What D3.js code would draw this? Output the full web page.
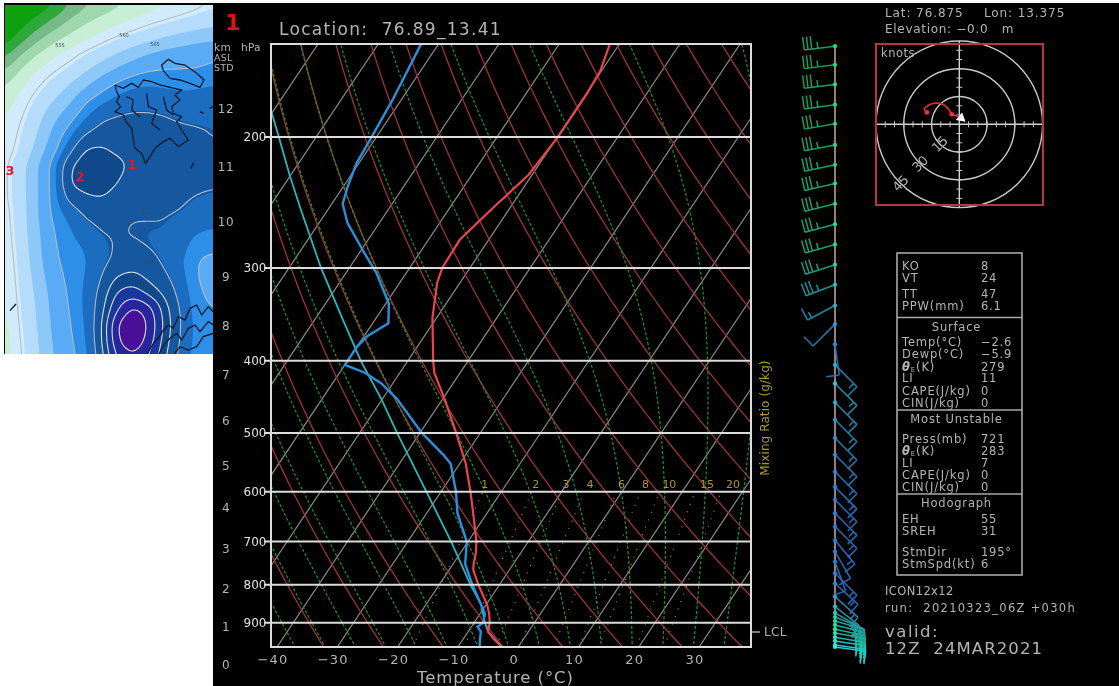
<!DOCTYPE html>
<html>
<head>
<meta charset="utf-8">
<script src="https://cdn.jsdelivr.net/npm/d3@7"></script>
<style>
  html, body { margin: 0; padding: 0; background: #fff; }
  svg { display: block; filter: blur(0.45px); }
  text { font-family: "DejaVu Sans", sans-serif; }
</style>
</head>
<body>
<svg id="chart" width="1119" height="686"></svg>
<script>
// sounding values (hPa, degC)
const tempLevels = [970, 950, 925, 900, 875, 850, 800, 764, 750, 726, 700, 650, 600, 550, 500, 450, 415, 400, 350, 314, 300, 275, 250, 225, 200, 175, 163, 150];
const tempValues = [-2.7, -4.6, -6.7, -7.4, -8.5, -9.9, -13.5, -16, -16.6, -17.4, -18.6, -21.7, -25.1, -29, -34, -39.7, -44.3, -45.8, -50.7, -53.8, -54.6, -54.8, -52.9, -50.6, -49.9, -49.9, -50.2, -51.6];

const dewLevels = [970, 950, 925, 911, 900, 875, 850, 800, 750, 700, 641, 600, 550, 535, 500, 450, 429, 415, 405, 383, 371, 356, 335, 305, 285, 261, 246, 233, 217, 200, 177, 150];
const dewValues = [-6.4, -7.1, -7.9, -9, -8.5, -9.2, -10.9, -14.5, -18, -20.2, -24.9, -27.5, -31.5, -33.7, -39.7, -47.6, -51.9, -55.8, -60, -60, -59.5, -57.4, -59.5, -64.9, -69.5, -75.3, -78.2, -79.3, -80.4, -80.8, -81.5, -82.9];

const parcelLevels = [970, 925, 900, 850, 800, 700, 600, 500, 450, 400, 350, 300, 250, 225, 200, 184];
const parcelValues = [-2.7, -6.7, -8.2, -10.9, -14.8, -22.8, -32.4, -43.8, -50.2, -57.8, -65.7, -74.7, -84.6, -90.2, -96.2, -100.5];

// wind column
const windLevels = [151, 160, 170, 181, 192, 205, 218, 231, 246, 262, 279, 297, 316, 337, 357, 380, 405, 429, 455, 480, 508, 535, 564, 591, 615, 641, 668, 697, 722, 745, 772, 797, 830, 856, 873, 884, 895, 906, 918, 929, 941, 952, 964, 970];
const windDirs = [263, 263, 263, 262, 260, 259, 258, 257, 256, 255, 254, 252, 249, 242, 225, 172, 135, 135, 135, 135, 135, 135, 135, 135, 135, 135, 135, 140, 150, 160, 135, 132, 132, 128, 120, 112, 106, 104, 102, 100, 100, 99, 98, 98];
const windSpeeds = [35, 35, 35, 35, 35, 35, 35, 35, 35, 35, 35, 35, 35, 15, 10, 10, 15, 15, 15, 15, 15, 15, 15, 15, 15, 15, 15, 15, 10, 10, 15, 15, 15, 15, 25, 25, 25, 25, 25, 25, 25, 25, 25, 25];

// hodograph, knots
const hodoU = [-17.5, -18.9, -16.6, -13, -8.6, -5.4, -4.1, -1.4, 1.3];
const hodoV = [6.4, 8.2, 10.3, 11.4, 10.7, 7.7, 5.4, 4.6, 3.9];
const hodoRings = [15, 30, 45];

// axes and background families
const pressureTicks = [200, 300, 400, 500, 600, 700, 800, 900];
const tempTicks = [-40, -30, -20, -10, 0, 10, 20, 30];
const kmLabels = [12, 11, 10, 9, 8, 7, 6, 5, 4, 3, 2, 1, 0];
const kmPressures = [183, 219, 260, 308, 359, 417, 482, 554, 631, 716, 811, 912, 1026];
const isotherms = d3.range(-130, 41, 10);
const dryThetas = d3.range(213, 434, 10);
const moistThetas = d3.range(-65, 36, 5);
const mixingRatios = [1, 2, 3, 4, 6, 8, 10, 15, 20];
const mixingLabelShift = [2, 4, 4, 6, 5, 5, 10, 12, 12];

const statsRows = [
  ["KO", "8", 266], ["VT", "24", 278], ["TT", "47", 294], ["PPW(mm)", "6.1", 306],
  ["Temp(°C)", "−2.6", 342], ["Dewp(°C)", "−5.9", 354], ["θE(K)", "279", 367], ["LI", "11", 378],
  ["CAPE(J/kg)", "0", 391], ["CIN(J/kg)", "0", 403],
  ["Press(mb)", "721", 439], ["θE(K)", "283", 451], ["LI", "7", 463],
  ["CAPE(J/kg)", "0", 475], ["CIN(J/kg)", "0", 487],
  ["EH", "55", 519], ["SREH", "31", 531], ["StmDir", "195°", 552], ["StmSpd(kt)", "6", 564]
];
const statsHeads = [["Surface", 327], ["Most Unstable", 419], ["Hodograph", 503]];

// overview map: field on a 14 x 23 lattice, one row per line
const mapField = [
  [0, 0, 0.3, 0.9, 2, 2.8, 3.4, 3.8, 4.2, 4.6, 4.9, 5.2, 5.5, 5.8],
  [0, 0.5, 1.3, 2.2, 3.1, 3.8, 4.3, 4.7, 5.1, 5.5, 5.8, 6.1, 6.4, 6.6],
  [0.3, 1.4, 2.6, 3.5, 4.2, 4.8, 5.3, 5.8, 6.2, 6.6, 7, 7.3, 7.5, 7.7],
  [1.6, 2.9, 3.9, 4.7, 5.3, 5.9, 6.4, 7, 7.5, 8, 8.3, 8.5, 8.7, 8.9],
  [2.9, 4, 5, 5.6, 6.1, 6.8, 7.5, 8.1, 8.6, 8.9, 9, 9, 9, 9.1],
  [3.9, 4.9, 5.6, 6.3, 7, 7.8, 8.6, 9.2, 9.6, 9.7, 9.6, 9.5, 9.6, 9.7],
  [4.5, 5.3, 6.2, 7, 7.8, 8.9, 9.5, 10, 10.2, 10.2, 10.1, 10, 10, 10.1],
  [4.9, 5.7, 6.6, 7.7, 8.6, 9.6, 10.4, 10.6, 10.7, 10.7, 10.6, 10.4, 10.3, 10.4],
  [5.2, 5.9, 7, 8.2, 9.4, 10.5, 10.9, 11, 11, 10.9, 10.8, 10.8, 10.7, 10.5],
  [5.3, 6.1, 7.3, 8.6, 10.2, 11.5, 11.6, 11.2, 11, 11, 10.9, 10.9, 10.8, 10.6],
  [5.5, 6.6, 7.9, 9.3, 11.3, 12, 12, 11.8, 11.2, 11.1, 11, 10.9, 10.8, 10.7],
  [5.5, 6.6, 7.9, 9.3, 11.5, 12, 12, 11.5, 11, 11, 10.9, 10.9, 10.8, 10.7],
  [5.5, 6.6, 7.9, 9.3, 10.9, 11.3, 11.5, 11.1, 11, 11, 10.9, 10.7, 10.5, 10.4],
  [5.4, 6.5, 7.9, 9.2, 10, 10.7, 10.8, 10.7, 10.6, 10.6, 10.6, 10.5, 10.2, 10],
  [5.3, 6.5, 7.8, 9, 9.6, 10.3, 10.6, 10.6, 10.5, 10.5, 10.5, 10.1, 9.8, 9.7],
  [5.2, 6.4, 7.7, 8.9, 9.4, 9.8, 10.4, 10.6, 10.6, 10.5, 10.3, 10, 9.4, 9.3],
  [5.1, 6.3, 7.6, 8.8, 9.3, 9.6, 10.3, 10.7, 10.9, 10.8, 10.4, 9.8, 9, 8.7],
  [5, 6.2, 7.4, 8.6, 9.2, 9.7, 10.5, 11.5, 11.8, 11.2, 10.7, 10, 9, 8.5],
  [4.9, 6.1, 7.2, 8.4, 9.1, 9.8, 10.8, 12.4, 12.8, 12, 11.2, 10.2, 9.2, 8.7],
  [4.8, 6, 7.1, 8.3, 9, 9.8, 11, 13.2, 14.6, 13.8, 11.8, 10.4, 9.3, 9],
  [4.7, 5.9, 7, 8.2, 8.9, 9.7, 11.2, 14.4, 15.4, 14.2, 12, 10.5, 9.4, 9.2],
  [4.6, 5.8, 6.9, 8.1, 8.8, 9.6, 11.2, 14.2, 15.2, 13.9, 11.8, 10.4, 9.4, 9.2],
  [4.5, 5.7, 6.8, 8, 8.7, 9.4, 11, 13.4, 14.1, 13.2, 11.5, 10.2, 9.3, 9.2]
];
const mapBands = [1, 2, 3, 4, 5, 6, 7, 8, 9, 9.7, 10.5, 11.45, 12.3, 13.3, 14.3];
const mapColors = ["#0da20d", "#2fa83a", "#78b98a", "#a0d8ae", "#c8eed6", "#d2ebfa", "#b6dcfb", "#8ec8f8", "#58abf4", "#2d8fe8", "#1c6cc0", "#15589f", "#10488c", "#1a389c", "#28259c", "#4a0f98"];
const mapIsolines = [5.75, 9, 10.55, 11.45, 12.3, 13.3, 14.3];
const coastLines = [
  [[345, 255], [350, 275], [358, 290], [350, 305], [362, 320], [345, 335], [370, 345], [378, 365], [395, 385], [400, 420], [405, 445], [425, 460], [437, 490], [450, 470], [465, 445], [490, 425], [510, 415], [535, 440], [550, 430], [565, 420], [545, 390], [530, 365], [545, 350], [520, 340], [515, 320], [540, 300], [525, 285], [545, 270], [510, 262], [480, 255], [455, 245], [430, 240], [415, 262], [395, 250], [370, 265], [345, 255]],
  [[380, 290], [400, 300], [395, 330], [420, 350]],
  [[440, 280], [445, 320], [470, 330], [455, 370], [480, 390]],
  [[490, 290], [500, 330], [520, 345]],
  [[490, 212], [485, 195], [505, 178], [525, 190], [555, 195], [590, 220], [612, 240], [600, 262], [570, 250], [540, 240], [510, 235], [490, 212]],
  [[440, 1065], [460, 1030], [478, 1010], [490, 990], [505, 975], [520, 985], [535, 950], [555, 960], [570, 925], [590, 915], [605, 945], [625, 920], [640, 935]],
  [[475, 1065], [495, 1030], [510, 1015], [530, 1000], [545, 1020], [565, 985], [585, 975], [600, 995], [625, 965], [640, 975]],
  [[520, 1065], [540, 1040], [565, 1050], [590, 1040], [610, 1010], [640, 1000]],
  [[30, 932], [48, 912]],
  [[572, 505], [582, 488]],
  [[600, 335], [610, 340]],
  [[628, 325], [640, 320]]
];
const mapPoints = [["1", 132, 164], ["2", 80, 176], ["3", 10, 170]];
const mapContourLabels = [["555", 60, 45], ["560", 124, 35], ["565", 155, 44], ["570", 147, 213], ["570", 149, 262], ["565", 145, 285]];

// layout
const svg = d3.select("#chart");
const frame = {left: 271, right: 751, top: 44, bottom: 647};
const skew = 0.668;
const textGray = "#b4b4b4";

const y = d3.scaleLog().domain([150, 970]).range([frame.top, frame.bottom]);
const xBase = d3.scaleLinear().domain([-40, 40]).range([277, 759.4]);
const tx = (t, p) => xBase(t) + skew * (frame.bottom - y(p));

const skewLine = d3.line().x(d => tx(d[1], d[0])).y(d => y(d[0]));

svg.append("rect").attr("x", 0).attr("y", 0).attr("width", 1119).attr("height", 686).attr("fill", "#fff");
svg.append("rect").attr("x", 4).attr("y", 3).attr("width", 1115).attr("height", 683).attr("fill", "#000");
svg.append("rect").attr("x", 4).attr("y", 354).attr("width", 209).attr("height", 332).attr("fill", "#fff");

drawMap();

const defs = svg.append("defs");
defs.append("clipPath").attr("id", "plotClip").append("rect")
  .attr("x", frame.left).attr("y", frame.top)
  .attr("width", frame.right - frame.left).attr("height", frame.bottom - frame.top);

const plot = svg.append("g").attr("clip-path", "url(#plotClip)");
const logP = d3.range(0, 61).map(i => 150 * Math.pow(970 / 150, i / 60));

// isotherms
plot.selectAll("line.iso").data(isotherms).join("line")
  .attr("class", "iso")
  .attr("x1", d => tx(d, 970)).attr("y1", y(970))
  .attr("x2", d => tx(d, 150)).attr("y2", y(150))
  .attr("stroke", "#8c8c8c").attr("stroke-width", 1.2);

// dry adiabats
plot.selectAll("path.dry").data(dryThetas).join("path")
  .attr("class", "dry").attr("fill", "none")
  .attr("stroke", "#a23038").attr("stroke-width", 1.3)
  .attr("d", th => skewLine(logP.map(p => [p, th * Math.pow(p / 1000, 0.286) - 273.15])));

// pseudoadiabats, stepped up from 1000 hPa
function moistCurve(thetaW) {
  const pts = [];
  let t = thetaW + 273.15, lnp = Math.log(1000);
  const stop = Math.log(150), dlnp = -0.01;
  while (lnp > stop) {
    const p = Math.exp(lnp);
    const tc = t - 273.15;
    const es = 6.112 * Math.exp(17.67 * tc / (tc + 243.5));
    const rs = 0.622 * es / (p - es);
    const dT = (287 * t + 2.5e6 * rs) / (1004 + 2.5e6 * 2.5e6 * rs * 0.622 / (287 * t * t));
    t += dT * dlnp;
    lnp += dlnp;
    if (p <= 975) pts.push([Math.exp(lnp), t - 273.15]);
  }
  return pts;
}
plot.selectAll("path.moist").data(moistThetas).join("path")
  .attr("class", "moist").attr("fill", "none")
  .attr("stroke", "#1c9424").attr("stroke-width", 1.2).attr("stroke-dasharray", "3,2")
  .attr("d", d => skewLine(moistCurve(d)));

// mixing ratio
function mixingT(w, p) {
  const l = Math.log(w * p / (622 + w) / 6.112);
  return 243.5 * l / (17.67 - l);
}
plot.selectAll("line.mix").data(mixingRatios).join("line")
  .attr("class", "mix")
  .attr("x1", d => tx(mixingT(d, 970), 970)).attr("y1", y(970))
  .attr("x2", d => tx(mixingT(d, 600), 600)).attr("y2", y(600))
  .attr("stroke", "#a08a3a").attr("stroke-width", 1.2).attr("stroke-dasharray", "1,7");

svg.selectAll("text.mixLabel").data(mixingRatios).join("text")
  .attr("class", "mixLabel")
  .attr("x", (d, i) => tx(mixingT(d, 600), 600) + mixingLabelShift[i]).attr("y", 488)
  .attr("text-anchor", "middle").attr("font-size", 11).attr("fill", "#ad9438")
  .text(d => d);

// pressure rules
svg.selectAll("line.pr").data(pressureTicks).join("line")
  .attr("class", "pr")
  .attr("x1", frame.left - 7).attr("x2", frame.right)
  .attr("y1", d => y(d)).attr("y2", d => y(d))
  .attr("stroke", "#dcdcdc").attr("stroke-width", 2);

// soundings
const traces = [
  {levels: parcelLevels, values: parcelValues, color: "#25b8bc", width: 1.8},
  {levels: tempLevels, values: tempValues, color: "#e8454c", width: 2.2},
  {levels: dewLevels, values: dewValues, color: "#2a90dc", width: 2.4}
];
plot.selectAll("path.trace").data(traces).join("path")
  .attr("class", "trace").attr("fill", "none")
  .attr("stroke", d => d.color).attr("stroke-width", d => d.width)
  .attr("d", d => skewLine(d.levels.map((p, i) => [p, d.values[i]])));

svg.append("rect")
  .attr("x", frame.left).attr("y", frame.top)
  .attr("width", frame.right - frame.left).attr("height", frame.bottom - frame.top)
  .attr("fill", "none").attr("stroke", "#dcdcdc").attr("stroke-width", 2);

// axis text
svg.selectAll("text.pl").data(pressureTicks).join("text")
  .attr("class", "pl")
  .attr("x", 255).attr("y", d => y(d)).attr("dy", "0.36em")
  .attr("text-anchor", "middle").attr("font-size", 12).attr("fill", "#e0e0e0")
  .text(d => d);

svg.selectAll("text.km").data(kmLabels).join("text")
  .attr("class", "km")
  .attr("x", 226).attr("y", (d, i) => y(kmPressures[i])).attr("dy", "0.36em")
  .attr("text-anchor", "middle").attr("font-size", 12).attr("letter-spacing", 0.6).attr("fill", textGray)
  .text(d => d);

svg.selectAll("text.tl").data(tempTicks).join("text")
  .attr("class", "tl")
  .attr("x", d => xBase(d) - 4).attr("y", 664)
  .attr("text-anchor", "middle").attr("font-size", 13).attr("letter-spacing", 1.2).attr("fill", textGray)
  .text(d => String(d).replace("-", "−"));

const label = (txt, x, y, size, opts = {}) => svg.append("text")
  .attr("x", x).attr("y", y)
  .attr("font-size", size)
  .attr("fill", opts.fill || textGray)
  .attr("font-weight", opts.weight || null)
  .attr("letter-spacing", opts.spacing === undefined ? 0.5 : opts.spacing)
  .attr("text-anchor", opts.anchor || "start")
  .style("white-space", "pre")
  .text(txt);

label("km", 214, 50.5, 10.5, {spacing: 0.3});
label("hPa", 241, 50.5, 10.5, {spacing: 0.3});
label("ASL", 214, 60.5, 9.5, {spacing: 0.2});
label("STD", 214, 71, 9.5, {spacing: 0.2});
label("1", 233, 30, 22, {fill: "#e01212", weight: "bold", anchor: "middle", spacing: 0});
label("Location:  76.89_13.41", 279, 35, 17, {spacing: 1.3});
label("Temperature (°C)", 417, 683, 16.5, {spacing: 0.9});
label("LCL", 764, 636, 12, {spacing: 0.3});
svg.append("line").attr("x1", frame.right).attr("x2", 760).attr("y1", 632).attr("y2", 632)
  .attr("stroke", "#ccc").attr("stroke-width", 1.2);
label("Mixing Ratio (g/kg)", 0, 0, 12, {fill: "#a89a30", anchor: "middle", spacing: 0.1})
  .attr("transform", "translate(769,418) rotate(-90)");

label("Lat: 76.875", 885, 17, 12, {spacing: 0.9});
label("Lon: 13.375", 984, 17, 12, {spacing: 0.9});
label("Elevation: −0.0   m", 885, 33, 12, {spacing: 0.7});
label("ICON12x12", 885, 595, 11.5, {spacing: 0.4});
label("run:  20210323_06Z +030h", 885, 612, 11.5, {spacing: 1.3});
label("valid:", 885, 637, 16.5, {spacing: 1.5});
label("12Z  24MAR2021", 885, 654, 16.5, {spacing: 1.1});

drawHodograph();
drawStats();
drawWinds();

function drawHodograph() {
  const cx = 959.3, cy = 124.3, box = {x: 876, y: 44, w: 167, h: 161};
  const r = d3.scaleLinear().domain([0, 45]).range([0, 83.3]);
  const g = svg.append("g");

  g.selectAll("circle").data(hodoRings).join("circle")
    .attr("cx", cx).attr("cy", cy).attr("r", d => r(d))
    .attr("fill", "none").attr("stroke", "#c8c8c8").attr("stroke-width", 1.4);
  g.append("line").attr("x1", cx - r(45)).attr("x2", cx + r(45)).attr("y1", cy).attr("y2", cy).attr("stroke", "#d0d0d0").attr("stroke-width", 1.4);
  g.append("line").attr("y1", cy - r(45)).attr("y2", cy + r(45)).attr("x1", cx).attr("x2", cx).attr("stroke", "#d0d0d0").attr("stroke-width", 1.4);

  const ticks = d3.range(-40, 41, 5).filter(d => d);
  g.selectAll("line.tx").data(ticks).join("line").attr("class", "tx")
    .attr("x1", d => cx + r(d)).attr("x2", d => cx + r(d)).attr("y1", cy - 3).attr("y2", cy + 3)
    .attr("stroke", "#c8c8c8");
  g.selectAll("line.ty").data(ticks).join("line").attr("class", "ty")
    .attr("y1", d => cy + r(d)).attr("y2", d => cy + r(d)).attr("x1", cx - 3).attr("x2", cx + 3)
    .attr("stroke", "#c8c8c8");

  g.selectAll("text.ring").data(hodoRings).join("text").attr("class", "ring")
    .attr("transform", d => `translate(${cx - r(d) * Math.SQRT1_2},${cy + r(d) * Math.SQRT1_2}) rotate(-45)`)
    .attr("text-anchor", "middle").attr("dy", "0.36em")
    .attr("font-size", 13).attr("fill", textGray)
    .text(d => d);

  const pts = hodoU.map((u, i) => [cx + r(u), cy - r(hodoV[i])]);
  g.append("path")
    .attr("d", d3.line().curve(d3.curveCatmullRom)(pts))
    .attr("fill", "none").attr("stroke", "#d4303a").attr("stroke-width", 1.8);
  g.selectAll("circle.hp").data([pts[0], pts[6]]).join("circle").attr("class", "hp")
    .attr("cx", d => d[0]).attr("cy", d => d[1]).attr("r", 2.4).attr("fill", "#e83040");
  g.append("path")
    .attr("d", d3.symbol(d3.symbolTriangle, 42)())
    .attr("transform", `translate(${cx + r(1)},${cy - r(3.4)}) rotate(10)`)
    .attr("fill", "#fff");

  g.append("rect").attr("x", box.x).attr("y", box.y).attr("width", box.w).attr("height", box.h)
    .attr("fill", "none").attr("stroke", "#b8363c").attr("stroke-width", 2);
  label("knots", 881, 57, 11.5, {spacing: 0.5});
}

function drawStats() {
  svg.append("rect").attr("x", 897).attr("y", 253).attr("width", 125).attr("height", 322)
    .attr("fill", "none").attr("stroke", "#a8a8a8").attr("stroke-width", 1.6);
  svg.selectAll("line.div").data([317.5, 410, 494]).join("line").attr("class", "div")
    .attr("x1", 897).attr("x2", 1022).attr("y1", d => d).attr("y2", d => d)
    .attr("stroke", "#a8a8a8").attr("stroke-width", 1.6);
  statsRows.forEach(r => {
    const name = label("", 902, r[2] + 4, 11.5, {spacing: 0.85});
    if (r[0][0] === "θ") {
      name.append("tspan").attr("font-weight", "bold").attr("font-style", "italic").text("θ");
      name.append("tspan").attr("font-size", 7).attr("dy", 1).text("E");
      name.append("tspan").attr("dy", -1).text(r[0].slice(2));
    } else {
      name.text(r[0]);
    }
    label(r[1], 981, r[2] + 4, 11.5, {spacing: 0.8});
  });
  statsHeads.forEach(h => label(h[0], 956.5, h[1] + 4, 11.5, {anchor: "middle", spacing: 0.8}));
}

function drawWinds() {
  const staffX = 835;
  const barbColor = d3.scaleLinear()
    .domain([150, 290, 337, 380, 420, 480, 640, 800, 870, 920, 970])
    .range(["#1b9c58", "#1a9c7c", "#1f85a5", "#1f70b4", "#1f8c9c", "#1f7eb0", "#1a6cc0", "#1c6ec0", "#1f98a4", "#20a890", "#22cccc"]);
  const dotColor = d3.scaleLinear()
    .domain([150, 290, 337, 357, 380, 420, 480, 640, 800, 870, 920, 970])
    .range(["#1be07a", "#20d8a0", "#20b4c8", "#20a0e0", "#2090e4", "#22d0d8", "#209cd8", "#2080ea", "#2088e8", "#20d0b0", "#20e8a0", "#20f0f0"]);
  const g = svg.append("g");

  g.append("line").attr("x1", staffX).attr("x2", staffX).attr("y1", y(windLevels[0])).attr("y2", y(970))
    .attr("stroke", "#c8a8a8").attr("stroke-width", 1.5);

  const len = 31, gap = 3.8, full = 13;
  const barbs = g.selectAll("g.barb").data(windLevels).join("g")
    .attr("class", "barb")
    .attr("fill", "none")
    .attr("stroke", d => barbColor(d))
    .attr("stroke-width", 1.5);

  barbs.each(function(p, i) {
    const sel = d3.select(this);
    const b = windDirs[i] * Math.PI / 180;
    const dx = Math.sin(b), dy = -Math.cos(b);
    const y0 = y(p);
    const tipX = staffX + dx * len, tipY = y0 + dy * len;
    let left = windSpeeds[i], k = 0, path = `M${staffX},${y0}L${tipX},${tipY}`;
    while (left > 0) {
      const size = left >= 10 ? full : full / 2;
      const at = k * (left >= 10 ? gap : gap * 1.2);
      const ax = tipX - dx * at, ay = tipY - dy * at;
      path += `M${ax},${ay}L${ax - dy * size},${ay + dx * size}`;
      left -= 10;
      k++;
    }
    sel.append("path").attr("d", path);
  });

  g.selectAll("circle.wd").data(windLevels).join("circle").attr("class", "wd")
    .attr("cx", staffX).attr("cy", d => y(d)).attr("r", 2.1)
    .attr("fill", d => dotColor(d));
}

function drawMap() {
  const factor = 8;
  const rows = mapField.length, cols = mapField[0].length;
  const w = (cols - 1) * factor + 1, h = (rows - 1) * factor + 1;
  const fine = new Float64Array(w * h);
  for (let j = 0; j < h; j++) {
    for (let i = 0; i < w; i++) {
      const u = i / factor, v = j / factor;
      const i0 = Math.min(Math.floor(u), cols - 2), j0 = Math.min(Math.floor(v), rows - 2);
      const fu = u - i0, fv = v - j0;
      fine[j * w + i] = (mapField[j0][i0] * (1 - fu) + mapField[j0][i0 + 1] * fu) * (1 - fv)
        + (mapField[j0 + 1][i0] * (1 - fu) + mapField[j0 + 1][i0 + 1] * fu) * fv;
    }
  }
  d3.blur2({data: fine, width: w, height: h}, 2);

  const mapX = d3.scaleLinear().domain([15, 639]).range([5, 213]);
  const mapY = d3.scaleLinear().domain([15, 1071]).range([5, 357]);
  const path = d3.geoPath(d3.geoTransform({
    point(cx, cy) {
      this.stream.point(mapX(15 + 6 * (cx - 0.5)), mapY(15 + 6 * (cy - 0.5)));
    }
  }));

  svg.append("defs").append("clipPath").attr("id", "mapClip").append("rect")
    .attr("x", 5).attr("y", 5).attr("width", 208).attr("height", 349);
  const g = svg.append("g").attr("clip-path", "url(#mapClip)");

  const contours = d3.contours().size([w, h]);
  g.append("rect").attr("x", 5).attr("y", 5).attr("width", 208).attr("height", 349).attr("fill", mapColors[0]);
  g.selectAll("path.band").data(contours.thresholds(mapBands)(fine)).join("path")
    .attr("class", "band")
    .attr("d", path)
    .attr("fill", (d, i) => mapColors[i + 1]);

  g.selectAll("path.isoline").data(contours.thresholds(mapIsolines)(fine)).join("path")
    .attr("class", "isoline")
    .attr("d", path)
    .attr("fill", "none")
    .attr("stroke", (d, i) => i > 2 ? "#dcdce8" : "#b4bcc8")
    .attr("stroke-width", 1.1);

  const coast = d3.line().x(d => mapX(d[0])).y(d => mapY(d[1]));
  g.selectAll("path.coast").data(coastLines).join("path")
    .attr("class", "coast")
    .attr("d", coast)
    .attr("fill", "none").attr("stroke", "#0a1a2a").attr("stroke-width", 1.3);

  g.selectAll("text.ctr").data(mapContourLabels).join("text")
    .attr("class", "ctr")
    .attr("x", d => d[1]).attr("y", d => d[2]).attr("dy", "0.36em")
    .attr("text-anchor", "middle").attr("font-size", 5).attr("fill", "#3a4a55")
    .text(d => d[0]);

  g.selectAll("text.pt").data(mapPoints).join("text")
    .attr("class", "pt")
    .attr("x", d => d[1]).attr("y", d => d[2]).attr("dy", "0.36em")
    .attr("text-anchor", "middle").attr("font-size", 13).attr("font-weight", "bold").attr("fill", "#e01a2a")
    .text(d => d[0]);
}
</script>
</body>
</html>
